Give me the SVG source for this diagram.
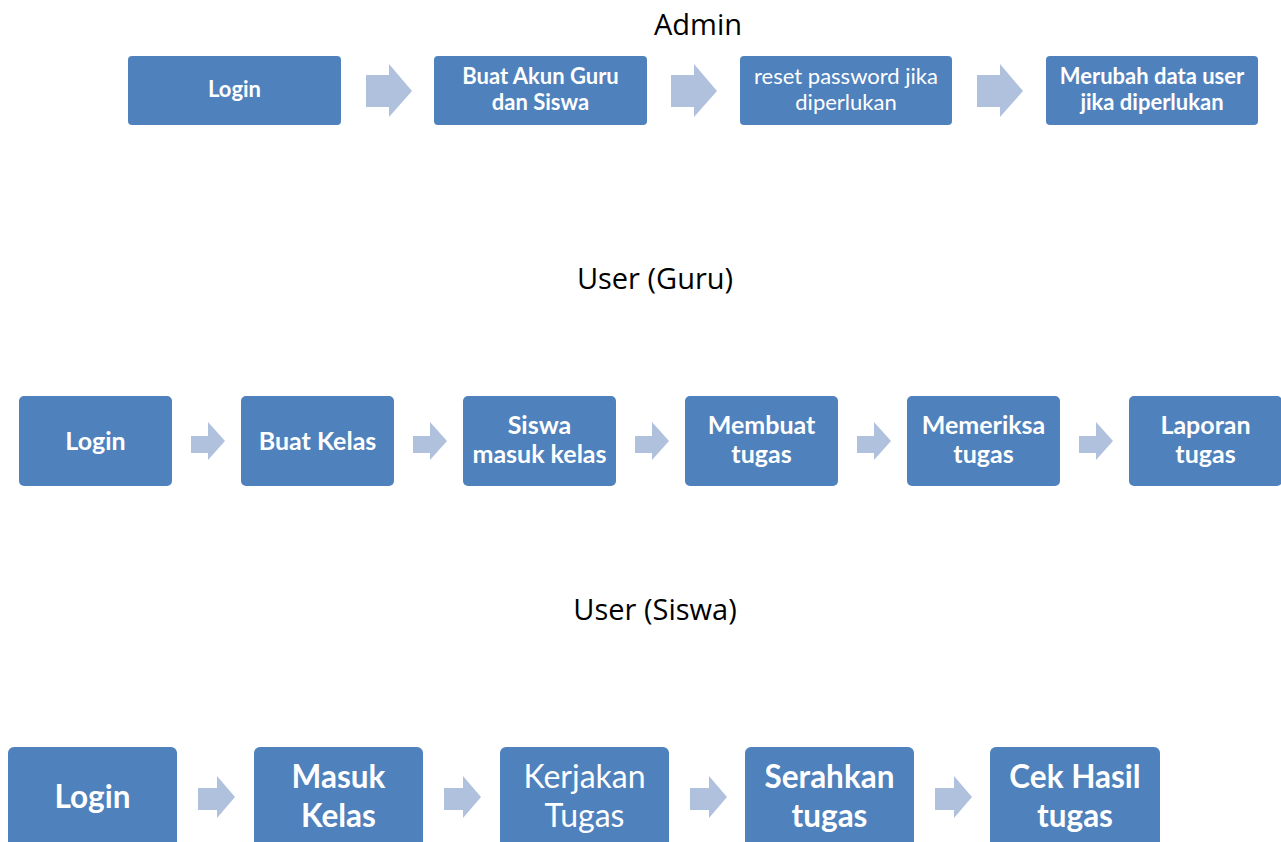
<svg xmlns="http://www.w3.org/2000/svg" width="1281" height="842" viewBox="0 0 1281 842">
<defs>
<style>
.box{fill:#4F81BD;}
.arr{fill:#B0C1DE;}
.title{font-family:"Open Sans","Noto Sans",sans-serif;font-size:29px;fill:#000;text-anchor:middle;}
.t1{font-family:Lato,"Liberation Sans",sans-serif;font-size:22px;font-weight:bold;fill:#fff;text-anchor:middle;}
.t1n{font-family:Lato,"Liberation Sans",sans-serif;font-size:22px;fill:#fff;text-anchor:middle;}
.t2{font-family:Lato,"Liberation Sans",sans-serif;font-size:25px;font-weight:bold;fill:#fff;text-anchor:middle;}
.t3{font-family:Lato,"Liberation Sans",sans-serif;font-size:31.5px;font-weight:bold;fill:#fff;text-anchor:middle;}
.t3n{font-family:Lato,"Liberation Sans",sans-serif;font-size:32px;fill:#fff;text-anchor:middle;}
</style>
<polygon id="a1" class="arr" points="0,11 23,11 23,0 46,27 23,53 23,43 0,43"/>
<polygon id="a2" class="arr" points="0,14 17,14 17,0 34,19 17,38 17,31 0,31"/>
<polygon id="a3" class="arr" points="0,12 19,12 19,0 37,21 19,42 19,34 0,34"/>
</defs>
<rect width="1281" height="842" fill="#fff"/>

<text class="title" x="698" y="35">Admin</text>
<text class="title" x="655" y="289">User (Guru)</text>
<text class="title" x="655" y="620">User (Siswa)</text>

<g id="connectors">
<use href="#a1" x="366" y="64"/>
<use href="#a1" x="671" y="64"/>
<use href="#a1" x="977" y="64"/>
<use href="#a2" x="191" y="422"/>
<use href="#a2" x="413" y="422"/>
<use href="#a2" x="635" y="422"/>
<use href="#a2" x="857" y="422"/>
<use href="#a2" x="1079" y="422"/>
<use href="#a3" x="198" y="776"/>
<use href="#a3" x="444" y="776"/>
<use href="#a3" x="690" y="776"/>
<use href="#a3" x="935" y="776"/>
</g>

<g id="admin-login"><rect class="box" x="128" y="56" width="213" height="69" rx="4"/><text class="t1" x="234.5" y="97">Login</text></g>
<g id="admin-buat-akun"><rect class="box" x="434" y="56" width="213" height="69" rx="4"/><text class="t1" x="540.5" y="84">Buat Akun Guru</text><text class="t1" x="540.5" y="110">dan Siswa</text></g>
<g id="admin-reset"><rect class="box" x="740" y="56" width="212" height="69" rx="4"/><text class="t1n" x="846" y="84">reset password jika</text><text class="t1n" x="846" y="110">diperlukan</text></g>
<g id="admin-merubah"><rect class="box" x="1046" y="56" width="212" height="69" rx="4"/><text class="t1" x="1152" y="84">Merubah data user</text><text class="t1" x="1152" y="110">jika diperlukan</text></g>

<g id="guru-login"><rect class="box" x="19" y="396" width="153" height="90" rx="5"/><text class="t2" x="95.5" y="450">Login</text></g>
<g id="guru-buat-kelas"><rect class="box" x="241" y="396" width="153" height="90" rx="5"/><text class="t2" x="317.5" y="450">Buat Kelas</text></g>
<g id="guru-siswa-masuk"><rect class="box" x="463" y="396" width="153" height="90" rx="5"/><text class="t2" x="539.5" y="434">Siswa</text><text class="t2" x="539.5" y="463">masuk kelas</text></g>
<g id="guru-membuat"><rect class="box" x="685" y="396" width="153" height="90" rx="5"/><text class="t2" x="761.5" y="434">Membuat</text><text class="t2" x="761.5" y="463">tugas</text></g>
<g id="guru-memeriksa"><rect class="box" x="907" y="396" width="153" height="90" rx="5"/><text class="t2" x="983.5" y="434">Memeriksa</text><text class="t2" x="983.5" y="463">tugas</text></g>
<g id="guru-laporan"><rect class="box" x="1129" y="396" width="153" height="90" rx="5"/><text class="t2" x="1205.5" y="434">Laporan</text><text class="t2" x="1205.5" y="463">tugas</text></g>

<g id="siswa-login"><rect class="box" x="8" y="747" width="169" height="115" rx="6"/><text class="t3" x="92.5" y="808">Login</text></g>
<g id="siswa-masuk"><rect class="box" x="254" y="747" width="169" height="115" rx="6"/><text class="t3" x="338.5" y="788">Masuk</text><text class="t3" x="338.5" y="827">Kelas</text></g>
<g id="siswa-kerjakan"><rect class="box" x="500" y="747" width="169" height="115" rx="6"/><text class="t3n" x="584.5" y="788">Kerjakan</text><text class="t3n" x="584.5" y="827">Tugas</text></g>
<g id="siswa-serahkan"><rect class="box" x="745" y="747" width="169" height="115" rx="6"/><text class="t3" x="829.5" y="788">Serahkan</text><text class="t3" x="829.5" y="827">tugas</text></g>
<g id="siswa-cek"><rect class="box" x="990" y="747" width="170" height="115" rx="6"/><text class="t3" x="1075" y="788">Cek Hasil</text><text class="t3" x="1075" y="827">tugas</text></g>
</svg>
